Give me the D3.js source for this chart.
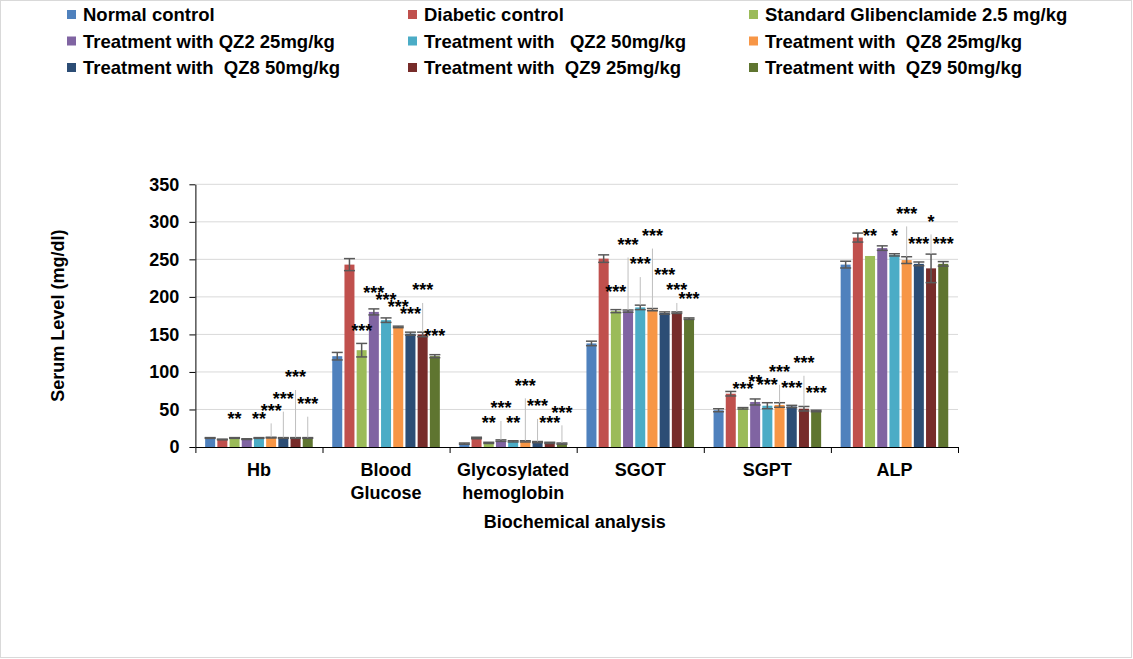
<!DOCTYPE html>
<html>
<head>
<meta charset="utf-8">
<script src="https://cdn.jsdelivr.net/npm/d3@7"></script>
<style>
  html, body { margin: 0; padding: 0; background: #fff; }
  svg text { font-family: "Liberation Sans", Arial, sans-serif; font-weight: bold; white-space: pre; }
</style>
</head>
<body>
<svg id="chart" width="1133" height="659"></svg>
<script>
// ---------- data ----------
const categories = ["Hb", "Blood\nGlucose", "Glycosylated\nhemoglobin", "SGOT", "SGPT", "ALP"];
const seriesNames = [
  "Normal control",
  "Diabetic control",
  "Standard Glibenclamide 2.5 mg/kg",
  "Treatment with QZ2 25mg/kg",
  "Treatment with   QZ2 50mg/kg",
  "Treatment with  QZ8 25mg/kg",
  "Treatment with  QZ8 50mg/kg",
  "Treatment with  QZ9 25mg/kg",
  "Treatment with  QZ9 50mg/kg"
];
const normalControl   = [12, 121, 4.5, 138, 49, 243];
const diabeticControl = [10, 243, 12, 251, 71, 279];
const standardGlib    = [12, 129, 5.5, 181, 51.5, 254.5];
const qz2_25          = [10.5, 180, 8.5, 181, 60, 265];
const qz2_50          = [12, 169, 7.5, 186, 55, 256];
const qz8_25          = [12.5, 160, 7.5, 183, 56, 249];
const qz8_50          = [12, 151, 6.5, 178.5, 54, 244];
const qz9_25          = [12, 150, 5.5, 179, 51, 238];
const qz9_50          = [12, 121, 4.5, 171, 48, 244];

const errNormal   = [0.5, 5, 0.8, 3, 2, 4.5];
const errDiabetic = [0.5, 8, 1, 5, 3, 6];
const errStandard = [0.5, 9, 0.8, 2, 1, 0];
const errQz2_25   = [0.5, 4, 1, 1.5, 4, 3];
const errQz2_50   = [0.5, 3, 0.8, 3, 4, 1.5];
const errQz8_25   = [0.5, 1, 0.8, 1.5, 3, 4.5];
const errQz8_50   = [0.5, 2, 0.8, 1.5, 1.5, 2.5];
const errQz9_25   = [0.5, 3, 0.8, 1, 3, 19];
const errQz9_50   = [0.5, 2, 0.8, 1, 1, 3];

const yTicks = [0, 50, 100, 150, 200, 250, 300, 350];

// significance labels: [category, series, text, label height (mg/dl), leader line]
const significance = [
  [0, 2, "**", 42.6, false], [0, 4, "**", 42.6, false], [0, 5, "***", 53.6, true],
  [0, 6, "***", 69.2, true], [0, 7, "***", 98, true], [0, 8, "***", 62.5, true],
  [1, 2, "***", 160, false], [1, 3, "***", 210, false], [1, 4, "***", 201, false],
  [1, 5, "***", 191.6, false], [1, 6, "***", 182, false], [1, 7, "***", 214, true],
  [1, 8, "***", 153, false],
  [2, 2, "**", 36.8, false], [2, 3, "***", 56.8, true], [2, 4, "**", 37.7, false],
  [2, 5, "***", 87, true], [2, 6, "***", 59.5, true], [2, 7, "***", 36.8, false],
  [2, 8, "***", 51, true],
  [3, 2, "***", 212, false], [3, 3, "***", 274.6, true], [3, 4, "***", 248.5, true],
  [3, 5, "***", 286.5, true], [3, 6, "***", 235, false], [3, 7, "***", 214, true],
  [3, 8, "***", 202, false],
  [4, 2, "***", 82.5, false], [4, 3, "**", 92, false], [4, 4, "***", 87.8, false],
  [4, 5, "***", 105, true], [4, 6, "***", 83.8, false], [4, 7, "***", 117, true],
  [4, 8, "***", 76.8, false],
  [5, 2, "**", 286, false], [5, 4, "*", 286, false], [5, 5, "***", 316, true],
  [5, 6, "***", 275.5, false], [5, 7, "*", 305.3, true], [5, 8, "***", 275.5, false]
];

const yTitle = "Serum Level (mg/dl)";
const xTitle = "Biochemical analysis";

// ---------- build ----------
const seriesValues = [normalControl, diabeticControl, standardGlib, qz2_25, qz2_50, qz8_25, qz8_50, qz9_25, qz9_50];
const seriesErrors = [errNormal, errDiabetic, errStandard, errQz2_25, errQz2_50, errQz8_25, errQz8_50, errQz9_25, errQz9_50];
const colors = ["#4F81BD", "#C0504D", "#9BBB59", "#8064A2", "#4BACC6", "#F79646", "#2C4D75", "#772C2A", "#5F7530"];

const svg = d3.select("#chart");
const W = 1133, H = 659;
const plot = { left: 195.4, right: 958, top: 184.3, bottom: 447 };

svg.append("rect").attr("x", 0.5).attr("y", 0.5).attr("width", W - 2).attr("height", H - 2)
  .attr("fill", "#fff").attr("stroke", "#d9d9d9");

const x0 = d3.scaleBand().domain(d3.range(categories.length)).range([plot.left, plot.right]).padding(0);
const x1 = d3.scaleBand().domain(d3.range(seriesNames.length)).range([0, x0.bandwidth()])
  .paddingInner(0.18).paddingOuter(0.8);
const y = d3.scaleLinear().domain([0, 350]).range([plot.bottom, plot.top]);

// gridlines
svg.append("g").selectAll("line").data(yTicks.filter(d => d > 0)).join("line")
  .attr("x1", plot.left).attr("x2", plot.right)
  .attr("y1", d => y(d)).attr("y2", d => y(d))
  .attr("stroke", "#d9d9d9").attr("stroke-width", 1);

// bars
const groups = svg.append("g").selectAll("g").data(categories).join("g")
  .attr("transform", (d, i) => `translate(${x0(i)},0)`);

groups.each(function (c, ci) {
  const g = d3.select(this);
  seriesValues.forEach((vals, si) => {
    g.append("rect")
      .attr("x", x1(si)).attr("width", x1.bandwidth())
      .attr("y", y(vals[ci])).attr("height", y(0) - y(vals[ci]))
      .attr("fill", colors[si]);
  });
  // error bars
  seriesValues.forEach((vals, si) => {
    const e = seriesErrors[si][ci];
    if (e <= 0) return;
    const cx = x1(si) + x1.bandwidth() / 2;
    const hw = x1.bandwidth() / 2 + 0.5;
    const eg = g.append("g").attr("stroke", "#595959").attr("stroke-width", 1.5);
    eg.append("line").attr("x1", cx).attr("x2", cx).attr("y1", y(vals[ci] + e)).attr("y2", y(vals[ci] - e));
    [vals[ci] + e, vals[ci] - e].forEach(v => {
      eg.append("line").attr("x1", cx - hw).attr("x2", cx + hw).attr("y1", y(v)).attr("y2", y(v));
    });
  });
});

// y axis
const yAxis = svg.append("g").attr("transform", `translate(${plot.left},0)`)
  .call(d3.axisLeft(y).tickValues(yTicks).tickSize(6).tickSizeOuter(0).tickPadding(10));
yAxis.selectAll("path, line").attr("stroke", "#000");
yAxis.selectAll("text").attr("font-size", 18).attr("fill", "#000")
  .style("font-family", '"Liberation Sans", Arial, sans-serif').style("font-weight", "bold");

// x axis (category boundaries)
const xb = d3.scaleLinear().domain([0, categories.length]).range([plot.left, plot.right]);
const xAxis = svg.append("g").attr("transform", `translate(0,${plot.bottom})`)
  .call(d3.axisBottom(xb).tickValues(d3.range(categories.length + 1)).tickFormat("").tickSize(6).tickSizeOuter(0));
xAxis.selectAll("path, line").attr("stroke", "#000");

// category labels
categories.forEach((c, i) => {
  const t = svg.append("text").attr("text-anchor", "middle").attr("font-size", 18).attr("fill", "#000")
    .attr("x", x0(i) + x0.bandwidth() / 2).attr("y", 476);
  c.split("\n").forEach((line, li) => {
    t.append("tspan").attr("x", x0(i) + x0.bandwidth() / 2).attr("dy", li === 0 ? 0 : 23).text(line);
  });
});

// axis titles
svg.append("text").attr("text-anchor", "middle").attr("font-size", 18)
  .attr("x", (plot.left + plot.right) / 2 - 2).attr("y", 528).text(xTitle);
svg.append("text").attr("text-anchor", "middle").attr("font-size", 18)
  .attr("transform", `translate(64,${(plot.top + plot.bottom) / 2}) rotate(-90)`).text(yTitle);

// significance labels
const sig = svg.append("g");
significance.forEach(([ci, si, txt, at, leader]) => {
  const cx = x0(ci) + x1(si) + x1.bandwidth() / 2;
  const cy = y(at);
  if (leader) {
    const top = seriesValues[si][ci] + seriesErrors[si][ci];
    sig.append("line").attr("x1", cx).attr("x2", cx)
      .attr("y1", cy + 16.6).attr("y2", y(top))
      .attr("stroke", "#bfbfbf").attr("stroke-width", 1);
  }
  sig.append("text").attr("text-anchor", "middle").attr("font-size", 18).attr("fill", "#000")
    .attr("x", cx).attr("y", cy + 10).text(txt);
});

// legend
const legend = svg.append("g");
const colX = [67, 408, 749];
const rowY = [21, 47.5, 74];
seriesNames.forEach((name, i) => {
  const cx = colX[i % 3], ry = rowY[Math.floor(i / 3)];
  legend.append("rect").attr("x", cx).attr("y", ry - 11).attr("width", 9).attr("height", 9).attr("fill", colors[i]);
  legend.append("text").attr("x", cx + 16).attr("y", ry).attr("font-size", 18.5).attr("fill", "#000").text(name);
});
</script>
</body>
</html>
